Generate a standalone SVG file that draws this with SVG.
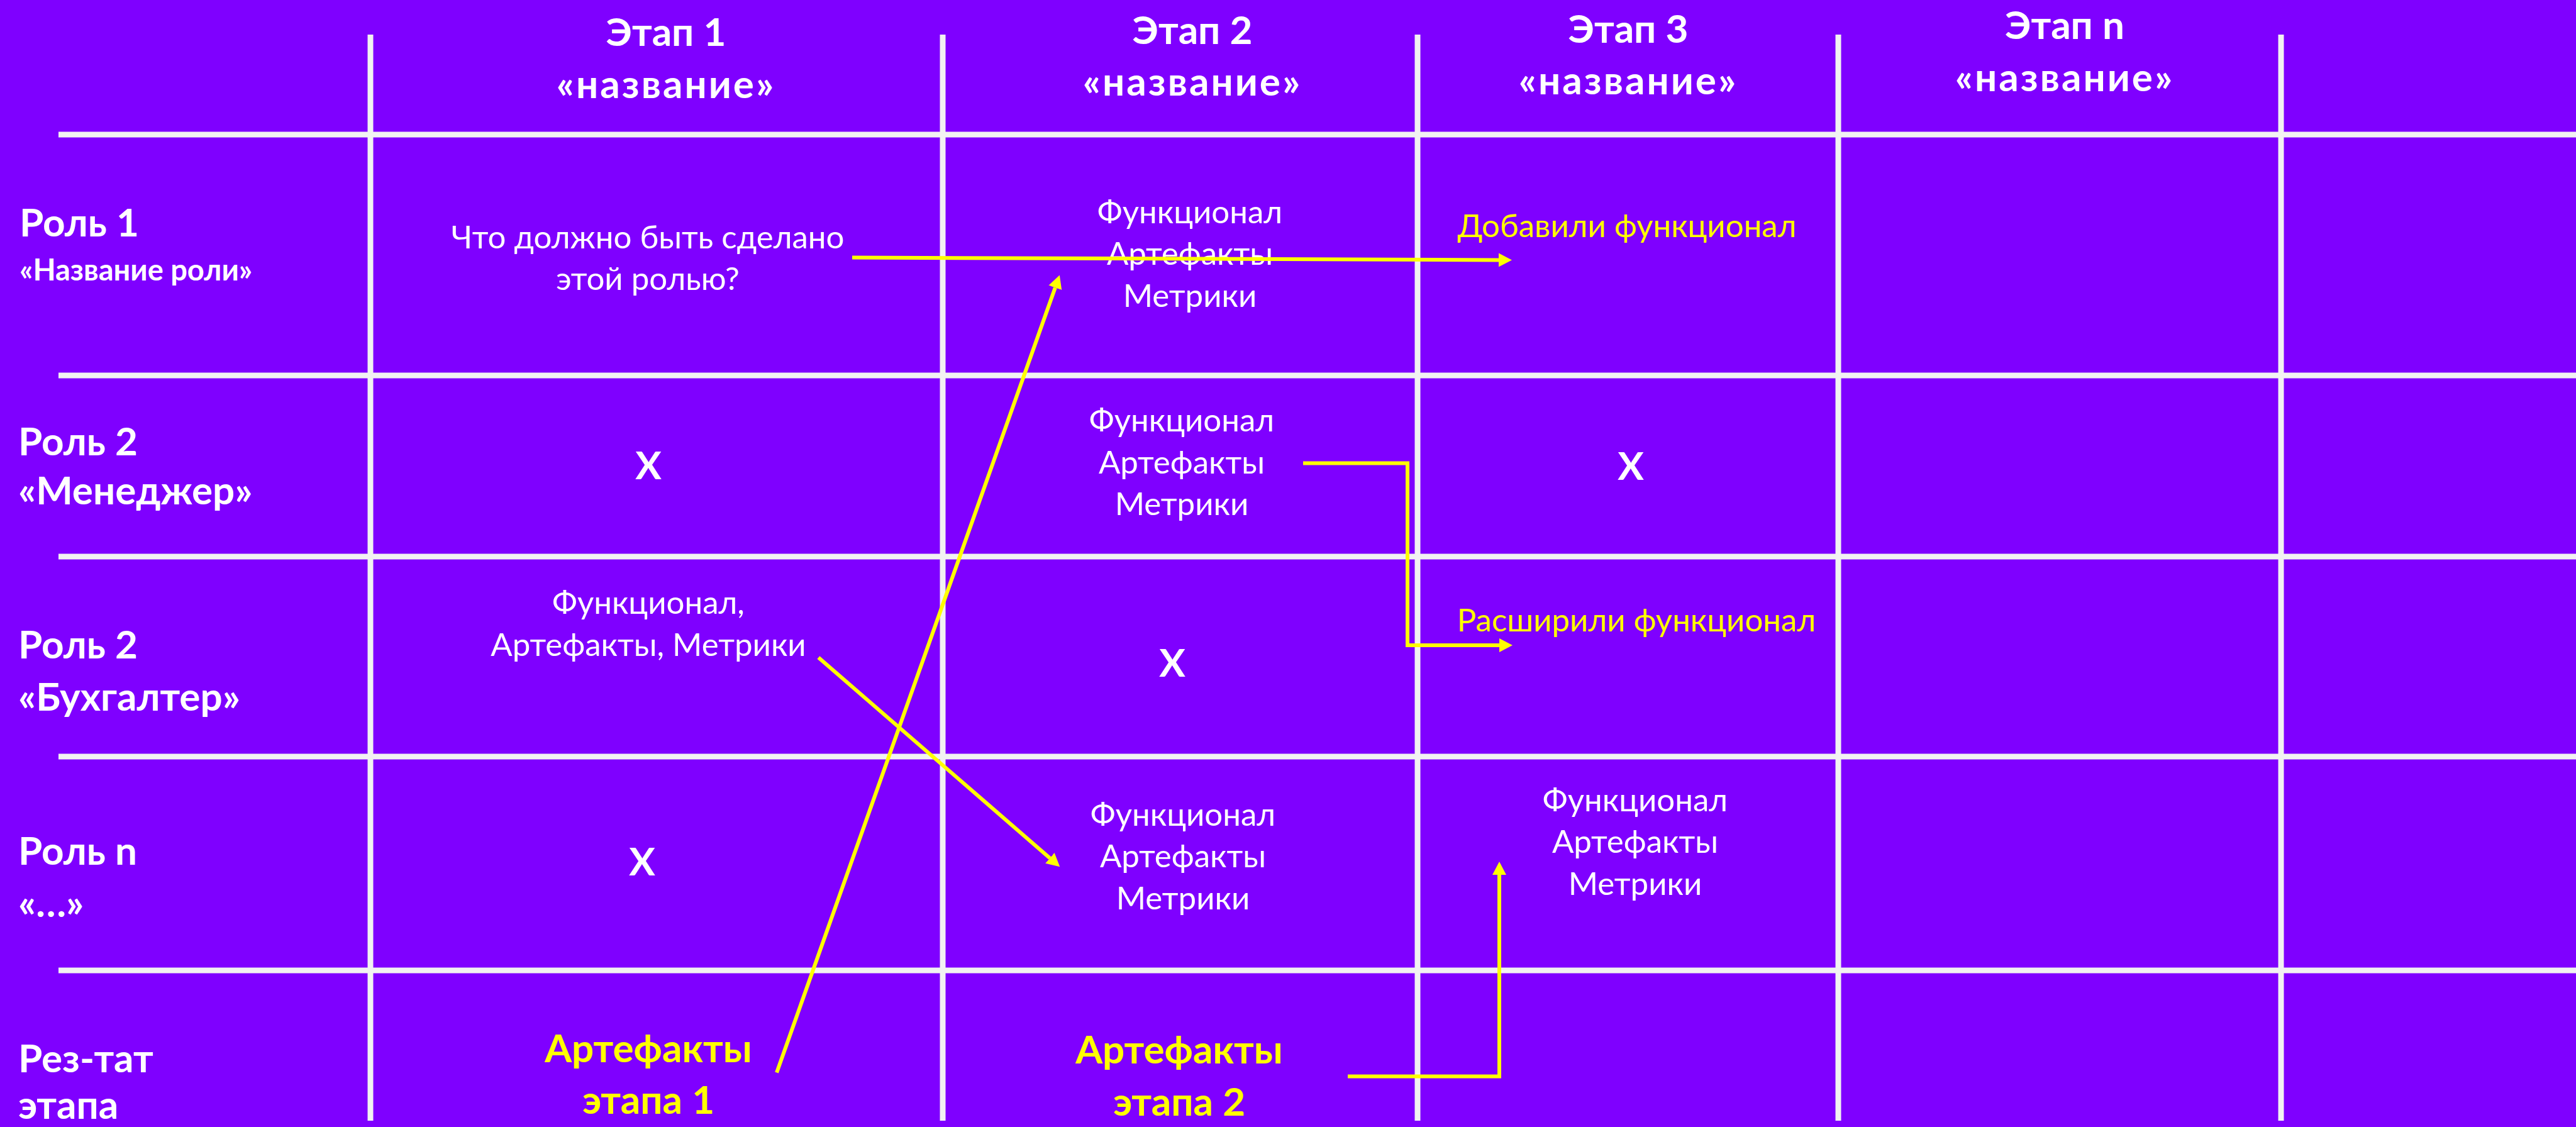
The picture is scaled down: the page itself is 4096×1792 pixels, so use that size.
<svg xmlns="http://www.w3.org/2000/svg" width="4096" height="1792" viewBox="0 0 4096 1792">
<style>
.grid{stroke:#F2F2F2;stroke-width:9;fill:none}
.h{font-family:Lato,"Open Sans","Noto Sans",sans-serif;font-weight:bold;font-size:62px;fill:#FFFFFF}
.hs{font-family:Lato,"Open Sans","Noto Sans",sans-serif;font-weight:bold;font-size:47px;fill:#FFFFFF}
.c{font-family:Lato,"Open Sans","Noto Sans",sans-serif;font-size:51px;fill:#FFFFFF;text-anchor:middle}
.y{font-family:Lato,"Open Sans","Noto Sans",sans-serif;font-size:51px;fill:#FFFF00;text-anchor:middle}
.yb{font-family:Lato,"Open Sans","Noto Sans",sans-serif;font-weight:bold;font-size:62px;fill:#FFFF00;text-anchor:middle}
.m{text-anchor:middle}
.w{letter-spacing:3px}
.conn{stroke:#FFFF00;stroke-width:6;fill:none;stroke-linejoin:miter}
</style>
<defs>
<marker id="ah" markerUnits="userSpaceOnUse" markerWidth="22" markerHeight="22" refX="0" refY="11" orient="auto">
<path d="M0,0 L21,11 L0,22 z" fill="#FFFF00"/>
</marker>
</defs>
<rect x="0" y="0" width="4096" height="1792" fill="#7F00FF"/>
<g id="grid">
<line class="grid" x1="589" y1="55" x2="589" y2="1782"/>
<line class="grid" x1="1499" y1="55" x2="1499" y2="1782"/>
<line class="grid" x1="2254" y1="55" x2="2254" y2="1782"/>
<line class="grid" x1="2923" y1="55" x2="2923" y2="1782"/>
<line class="grid" x1="3627" y1="55" x2="3627" y2="1782"/>
<line class="grid" x1="93" y1="214" x2="4096" y2="214"/>
<line class="grid" x1="93" y1="597" x2="4096" y2="597"/>
<line class="grid" x1="93" y1="885" x2="4096" y2="885"/>
<line class="grid" x1="93" y1="1203" x2="4096" y2="1203"/>
<line class="grid" x1="93" y1="1543" x2="4096" y2="1543"/>
</g>
<g id="header-stage1"><text class="h m" x="1059" y="73">Этап 1</text><text class="h m w" x="1059" y="156">«название»</text></g>
<g id="header-stage2"><text class="h m" x="1896" y="70">Этап 2</text><text class="h m w" x="1896" y="152">«название»</text></g>
<g id="header-stage3"><text class="h m" x="2589" y="68">Этап 3</text><text class="h m w" x="2589" y="150">«название»</text></g>
<g id="header-stagen"><text class="h m" x="3283" y="62">Этап n</text><text class="h m w" x="3283" y="145">«название»</text></g>
<g id="role1"><text class="h" x="31" y="376">Роль 1</text><text class="hs" x="31" y="446">«Название роли»</text></g>
<g id="role2"><text class="h" x="29" y="724">Роль 2</text><text class="h" x="29" y="802">«Менеджер»</text></g>
<g id="role3"><text class="h" x="29" y="1047">Роль 2</text><text class="h" x="29" y="1130">«Бухгалтер»</text></g>
<g id="rolen"><text class="h" x="29" y="1375">Роль n</text><text class="h" x="29" y="1458">«…»</text></g>
<g id="result"><text class="h" x="29" y="1705">Рез-тат</text><text class="h" x="29" y="1779">этапа</text></g>
<g id="r1s1"><text class="c" x="1030" y="395">Что должно быть сделано</text><text class="c" x="1030" y="461">этой ролью?</text></g>
<g id="r1s2"><text class="c" x="1892" y="355">Функционал</text><text class="c" x="1892" y="421">Артефакты</text><text class="c" x="1892" y="488">Метрики</text></g>
<g id="r1s3"><text class="y" x="2587" y="377">Добавили функционал</text></g>
<g id="r2s1"><text class="h m" x="1031" y="762">X</text></g>
<g id="r2s2"><text class="c" x="1879" y="686">Функционал</text><text class="c" x="1879" y="753">Артефакты</text><text class="c" x="1879" y="819">Метрики</text></g>
<g id="r2s3"><text class="h m" x="2593" y="763">X</text></g>
<g id="r3s1"><text class="c" x="1031" y="976">Функционал,</text><text class="c" x="1031" y="1043">Артефакты, Метрики</text></g>
<g id="r3s2"><text class="h m" x="1864" y="1076">X</text></g>
<g id="r3s3"><text class="y" x="2602" y="1004">Расширили функционал</text></g>
<g id="r4s1"><text class="h m" x="1021" y="1392">X</text></g>
<g id="r4s2"><text class="c" x="1881" y="1313">Функционал</text><text class="c" x="1881" y="1379">Артефакты</text><text class="c" x="1881" y="1446">Метрики</text></g>
<g id="r4s3"><text class="c" x="2600" y="1290">Функционал</text><text class="c" x="2600" y="1356">Артефакты</text><text class="c" x="2600" y="1423">Метрики</text></g>
<g id="res1"><text class="yb" x="1031" y="1689">Артефакты</text><text class="yb" x="1031" y="1771">этапа 1</text></g>
<g id="res2"><text class="yb" x="1875" y="1691">Артефакты</text><text class="yb" x="1875" y="1774">этапа 2</text></g>
<g id="connectors">
<line class="conn" x1="1355" y1="409.5" x2="2383" y2="413.4" marker-end="url(#ah)"/>
<line class="conn" x1="1235" y1="1705.5" x2="1677.8" y2="457.4" marker-end="url(#ah)"/>
<line class="conn" x1="1301.4" y1="1045.5" x2="1669.4" y2="1364.4" marker-end="url(#ah)"/>
<polyline class="conn" points="2072,736.5 2238,736.5 2238,1026 2384,1026" marker-end="url(#ah)"/>
<polyline class="conn" points="2143,1711.5 2384,1711.5 2384,1391" marker-end="url(#ah)"/>
</g>
</svg>
